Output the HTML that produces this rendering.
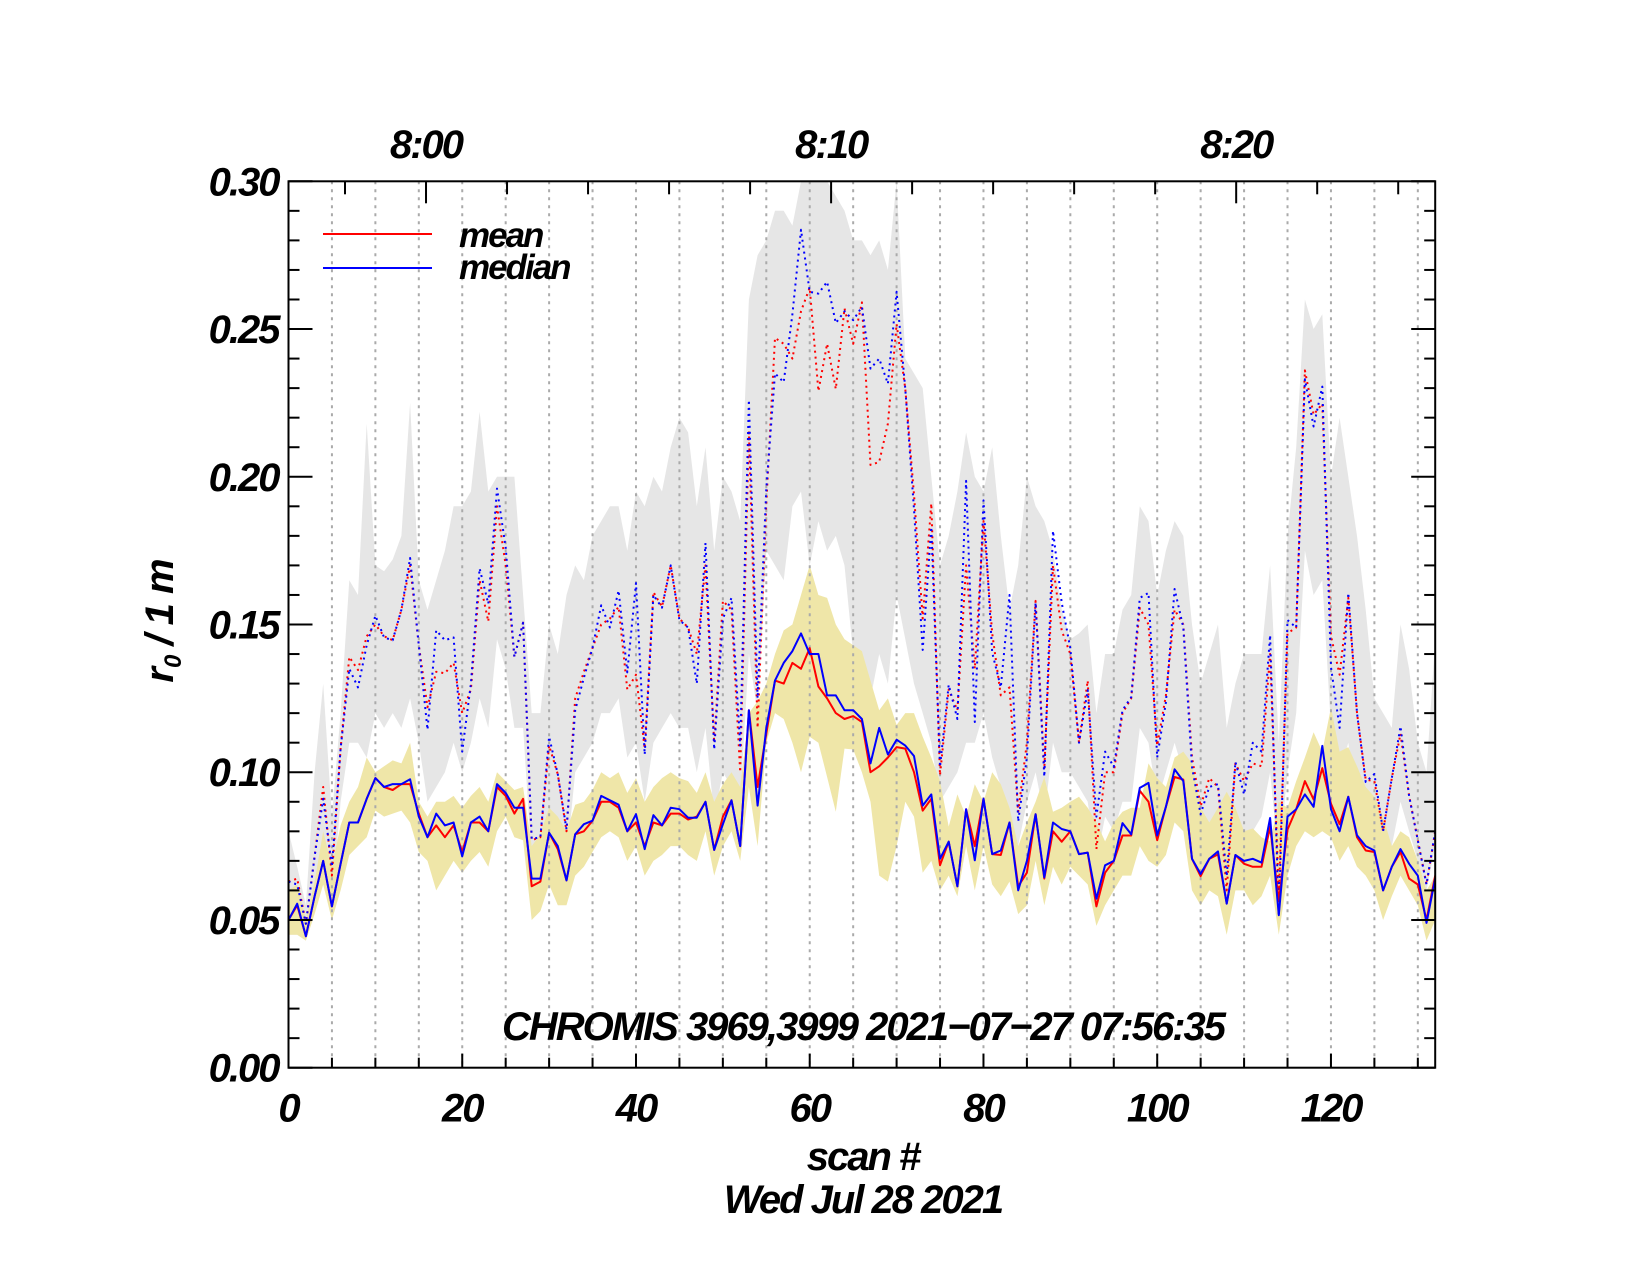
<!DOCTYPE html>
<html><head><meta charset="utf-8"><style>
html,body{margin:0;padding:0;background:#fff}
svg text{font-family:"Liberation Sans",sans-serif;font-weight:bold;font-style:italic;fill:#000}
</style></head><body>
<svg id="chart" width="1651" height="1275" viewBox="0 0 1651 1275">
<g id="bands"></g>
<g id="grid"></g>
<g id="lines"></g>
<g id="axes"></g>
</svg>
<script>
const medianSolid=[0.050,0.0555,0.0445,0.058,0.070,0.0546,0.069,0.083,0.083,0.091,0.098,0.095,0.096,0.096,0.0976,0.085,0.078,0.086,0.082,0.083,0.0715,0.083,0.085,0.080,0.096,0.093,0.088,0.088,0.064,0.064,0.0795,0.075,0.0634,0.079,0.0824,0.0836,0.092,0.0905,0.089,0.080,0.0858,0.074,0.0855,0.082,0.088,0.0875,0.0846,0.0846,0.090,0.0737,0.0824,0.0905,0.075,0.121,0.0887,0.115,0.131,0.137,0.141,0.147,0.140,0.140,0.126,0.126,0.121,0.121,0.118,0.103,0.115,0.106,0.111,0.109,0.1055,0.0887,0.0925,0.0707,0.0765,0.0614,0.0875,0.0702,0.091,0.0723,0.0735,0.083,0.060,0.070,0.0858,0.0644,0.083,0.0808,0.080,0.0723,0.0728,0.0572,0.0685,0.070,0.0828,0.079,0.0947,0.0964,0.0786,0.0883,0.101,0.097,0.0707,0.0656,0.0707,0.0732,0.0555,0.072,0.070,0.0707,0.0694,0.0845,0.0516,0.085,0.0875,0.0925,0.0883,0.1089,0.0875,0.080,0.0917,0.0787,0.075,0.0735,0.060,0.068,0.074,0.069,0.065,0.049,0.064];
const meanSolid=[0.050,0.055,0.0445,0.058,0.070,0.0546,0.069,0.083,0.083,0.091,0.098,0.095,0.094,0.096,0.096,0.086,0.078,0.082,0.078,0.082,0.073,0.083,0.083,0.080,0.095,0.092,0.086,0.091,0.0614,0.063,0.0795,0.074,0.0634,0.079,0.080,0.0836,0.090,0.090,0.088,0.080,0.083,0.075,0.083,0.082,0.086,0.086,0.084,0.085,0.090,0.0737,0.085,0.0905,0.075,0.121,0.095,0.113,0.131,0.130,0.137,0.135,0.142,0.129,0.125,0.120,0.118,0.119,0.117,0.100,0.102,0.105,0.1085,0.108,0.100,0.087,0.091,0.0685,0.0765,0.0614,0.0875,0.075,0.091,0.0723,0.072,0.083,0.0614,0.066,0.0858,0.064,0.080,0.0765,0.080,0.0723,0.0728,0.0546,0.066,0.070,0.0786,0.0786,0.0937,0.090,0.077,0.0883,0.0984,0.0975,0.0707,0.0648,0.0707,0.0722,0.0556,0.072,0.069,0.068,0.068,0.0815,0.0564,0.0806,0.0875,0.097,0.0908,0.1014,0.0893,0.0824,0.0917,0.078,0.0735,0.073,0.060,0.068,0.073,0.064,0.062,0.050,0.065];
const medianDot=[0.063,0.062,0.0487,0.0715,0.091,0.068,0.108,0.135,0.1287,0.143,0.153,0.1456,0.1447,0.155,0.1725,0.143,0.1144,0.148,0.1447,0.1456,0.107,0.130,0.169,0.157,0.196,0.176,0.139,0.1506,0.0774,0.078,0.112,0.0993,0.0807,0.121,0.132,0.142,0.1565,0.149,0.1615,0.1338,0.164,0.106,0.160,0.1557,0.170,0.1515,0.149,0.130,0.1776,0.1077,0.152,0.159,0.109,0.226,0.125,0.196,0.235,0.232,0.255,0.2836,0.2626,0.262,0.266,0.252,0.256,0.253,0.2575,0.2366,0.240,0.2315,0.2626,0.2297,0.189,0.1414,0.183,0.1018,0.1296,0.118,0.1986,0.117,0.192,0.1405,0.1287,0.160,0.0833,0.105,0.1574,0.0985,0.1817,0.1574,0.142,0.110,0.1278,0.085,0.107,0.1018,0.121,0.1254,0.159,0.1607,0.105,0.1237,0.162,0.149,0.1018,0.0858,0.095,0.096,0.0648,0.1035,0.0925,0.110,0.107,0.1464,0.0513,0.1515,0.149,0.233,0.217,0.2305,0.1355,0.115,0.1607,0.120,0.0967,0.0994,0.080,0.098,0.1155,0.092,0.077,0.062,0.080];
const meanDot=[0.063,0.064,0.0487,0.0715,0.095,0.065,0.108,0.139,0.1346,0.146,0.150,0.146,0.1447,0.155,0.170,0.143,0.122,0.134,0.1335,0.137,0.120,0.128,0.165,0.151,0.190,0.170,0.139,0.1506,0.077,0.078,0.109,0.0993,0.080,0.125,0.134,0.142,0.150,0.152,0.156,0.128,0.133,0.108,0.161,0.156,0.170,0.152,0.149,0.140,0.170,0.110,0.158,0.155,0.100,0.215,0.115,0.191,0.247,0.245,0.240,0.256,0.264,0.229,0.245,0.2297,0.257,0.245,0.259,0.204,0.205,0.218,0.2517,0.2297,0.194,0.152,0.191,0.099,0.128,0.121,0.170,0.135,0.185,0.147,0.126,0.1287,0.0866,0.110,0.158,0.101,0.170,0.148,0.140,0.110,0.131,0.074,0.100,0.100,0.120,0.125,0.1556,0.150,0.109,0.126,0.155,0.150,0.105,0.0885,0.098,0.095,0.060,0.103,0.097,0.103,0.102,0.140,0.058,0.147,0.149,0.236,0.221,0.2247,0.146,0.133,0.159,0.120,0.0975,0.097,0.080,0.098,0.113,0.092,0.077,0.062,0.080];
const yellowHigh=[0.060,0.062,0.050,0.063,0.080,0.068,0.082,0.090,0.095,0.105,0.100,0.102,0.104,0.103,0.110,0.090,0.085,0.090,0.090,0.092,0.088,0.092,0.095,0.090,0.100,0.097,0.094,0.095,0.075,0.079,0.088,0.085,0.080,0.089,0.090,0.094,0.100,0.098,0.100,0.093,0.098,0.090,0.095,0.098,0.100,0.098,0.097,0.093,0.100,0.090,0.096,0.100,0.095,0.120,0.124,0.130,0.140,0.148,0.150,0.160,0.170,0.160,0.159,0.150,0.145,0.143,0.141,0.131,0.121,0.125,0.116,0.120,0.120,0.112,0.105,0.097,0.0816,0.0925,0.085,0.0959,0.090,0.100,0.0959,0.088,0.075,0.083,0.090,0.0984,0.0866,0.088,0.090,0.0917,0.088,0.083,0.0766,0.083,0.0866,0.088,0.088,0.103,0.098,0.095,0.105,0.107,0.103,0.088,0.083,0.088,0.0934,0.088,0.080,0.081,0.078,0.0766,0.090,0.088,0.097,0.105,0.1135,0.107,0.122,0.107,0.1085,0.102,0.095,0.0917,0.085,0.075,0.080,0.078,0.070,0.060,0.065];
const yellowLow=[0.045,0.045,0.043,0.052,0.062,0.050,0.060,0.072,0.075,0.078,0.087,0.085,0.086,0.087,0.083,0.073,0.070,0.060,0.065,0.070,0.066,0.070,0.073,0.068,0.080,0.085,0.078,0.077,0.050,0.053,0.062,0.055,0.055,0.065,0.068,0.073,0.078,0.080,0.078,0.070,0.075,0.065,0.070,0.072,0.075,0.075,0.072,0.070,0.080,0.065,0.075,0.080,0.070,0.095,0.075,0.110,0.120,0.118,0.110,0.100,0.112,0.110,0.0984,0.0866,0.108,0.1077,0.100,0.090,0.065,0.063,0.075,0.090,0.085,0.066,0.070,0.060,0.065,0.058,0.075,0.060,0.075,0.062,0.058,0.063,0.052,0.055,0.070,0.055,0.068,0.062,0.068,0.065,0.062,0.048,0.055,0.060,0.065,0.065,0.075,0.070,0.068,0.072,0.083,0.080,0.060,0.055,0.060,0.058,0.045,0.060,0.060,0.055,0.058,0.065,0.045,0.065,0.075,0.080,0.078,0.080,0.078,0.070,0.075,0.068,0.065,0.060,0.050,0.058,0.065,0.060,0.055,0.043,0.050];
const grayHigh=[0.080,0.068,0.055,0.100,0.130,0.085,0.120,0.165,0.160,0.218,0.170,0.168,0.172,0.180,0.225,0.165,0.155,0.165,0.175,0.190,0.190,0.195,0.222,0.195,0.200,0.200,0.200,0.160,0.120,0.120,0.150,0.140,0.160,0.170,0.165,0.180,0.185,0.190,0.190,0.175,0.195,0.190,0.200,0.195,0.210,0.220,0.215,0.190,0.210,0.175,0.200,0.195,0.185,0.260,0.275,0.280,0.290,0.290,0.285,0.300,0.300,0.300,0.300,0.295,0.290,0.280,0.280,0.275,0.280,0.270,0.300,0.240,0.235,0.230,0.200,0.170,0.180,0.195,0.215,0.200,0.195,0.210,0.180,0.155,0.170,0.200,0.190,0.185,0.175,0.155,0.145,0.147,0.150,0.120,0.140,0.140,0.155,0.160,0.190,0.185,0.160,0.175,0.185,0.180,0.150,0.130,0.140,0.150,0.115,0.130,0.140,0.140,0.140,0.170,0.110,0.180,0.210,0.260,0.250,0.255,0.200,0.220,0.200,0.180,0.155,0.125,0.120,0.115,0.150,0.135,0.110,0.100,0.145];
const grayLow=[0.045,0.045,0.043,0.060,0.075,0.055,0.090,0.110,0.110,0.105,0.120,0.115,0.120,0.115,0.125,0.110,0.090,0.095,0.100,0.110,0.100,0.110,0.125,0.115,0.145,0.135,0.115,0.115,0.070,0.070,0.085,0.075,0.070,0.100,0.105,0.110,0.120,0.120,0.125,0.105,0.110,0.090,0.110,0.115,0.120,0.115,0.115,0.100,0.115,0.085,0.100,0.095,0.090,0.140,0.120,0.175,0.170,0.165,0.190,0.195,0.170,0.185,0.175,0.180,0.170,0.140,0.130,0.125,0.140,0.130,0.160,0.145,0.130,0.120,0.110,0.090,0.095,0.100,0.110,0.110,0.120,0.105,0.095,0.085,0.075,0.090,0.100,0.085,0.110,0.100,0.100,0.095,0.090,0.070,0.085,0.080,0.090,0.090,0.115,0.110,0.090,0.100,0.110,0.100,0.085,0.075,0.080,0.085,0.065,0.080,0.080,0.080,0.085,0.100,0.070,0.100,0.120,0.175,0.160,0.165,0.115,0.100,0.110,0.090,0.085,0.075,0.070,0.075,0.090,0.080,0.070,0.060,0.075];
const yTicks=[0,0.05,0.10,0.15,0.20,0.25,0.30];
const yTickLabels=["0.00","0.05","0.10","0.15","0.20","0.25","0.30"];
const xTicks=[0,20,40,60,80,100,120];
const xTickLabels=["0","20","40","60","80","100","120"];
const timeLabels=["8:00","8:10","8:20"];
const timeLabelScans=[15.83,62.47,109.1];

const L=288.5,R=1435.2,T=181.3,B=1067.7,XMAX=132,YMAX=0.30;
const NS="http://www.w3.org/2000/svg";
function xs(i){return L+(R-L)*i/XMAX;}
function ys(v){return B-(B-T)*Math.min(v,YMAX)/YMAX;}
function mk(tag,attrs,parent){const e=document.createElementNS(NS,tag);for(const k in attrs)e.setAttribute(k,attrs[k]);parent.appendChild(e);return e;}
const bands=document.getElementById('bands'),grid=document.getElementById('grid'),lines=document.getElementById('lines'),axes=document.getElementById('axes');

function bandPath(hi,lo){let d='';hi.forEach((v,i)=>{d+=(i?'L':'M')+xs(i).toFixed(1)+','+ys(v).toFixed(1);});for(let i=lo.length-1;i>=0;i--)d+='L'+xs(i).toFixed(1)+','+ys(lo[i]).toFixed(1);return d+'Z';}
const clip=mk('clipPath',{id:'pc'},document.getElementById('chart'));
mk('rect',{x:L,y:T,width:R-L,height:B-T},clip);
bands.setAttribute('clip-path','url(#pc)');
const g1=mk('path',{d:bandPath(grayHigh,grayLow),fill:'#e6e6e6'},bands);


const g2=mk('path',{d:bandPath(yellowHigh,yellowLow),fill:'#efe6a8'},bands);



for(let s=5;s<XMAX;s+=5){
 const gl=mk('line',{x1:xs(s),x2:xs(s),y1:T,y2:B,stroke:'#aaa','stroke-width':2,'stroke-dasharray':'3,5'},grid);
 
 
}

function linePath(a){return a.map((v,i)=>(i?'L':'M')+xs(i).toFixed(1)+','+ys(v).toFixed(1)).join('');}
lines.setAttribute('clip-path','url(#pc)');
const specs=[[meanDot,'red','2,4','mean-dotted'],[medianDot,'blue','2,4','median-dotted'],[meanSolid,'red','','mean-line'],[medianSolid,'blue','','median-line']];
specs.forEach(s=>{const p=mk('path',{d:linePath(s[0]),fill:'none',stroke:s[1],'stroke-width':2,'stroke-dasharray':s[2]||'none','stroke-linejoin':'round'},lines);
 
 });

const fr=mk('rect',{x:L,y:T,width:R-L,height:B-T,fill:'none',stroke:'#000','stroke-width':2},axes);


for(let k=0;k<=30;k++){const v=k/100,y=ys(v),len=(k%5===0)?24:11;
 mk('line',{x1:L,x2:L+len,y1:y,y2:y,stroke:'#000','stroke-width':2},axes);
 mk('line',{x1:R,x2:R-len,y1:y,y2:y,stroke:'#000','stroke-width':2},axes);}
yTicks.forEach((v,i)=>{const t=mk('text',{x:L-10,y:ys(v)+14,'text-anchor':'end','font-size':40,'letter-spacing':-2},axes);t.textContent=yTickLabels[i];
 
 });
for(let s=0;s<=XMAX;s+=5){const len=s%20===0?14:10;
 mk('line',{x1:xs(s),x2:xs(s),y1:B,y2:B-len,stroke:'#000','stroke-width':2},axes);}
xTicks.forEach((s,i)=>{const t=mk('text',{x:xs(s),y:B+54,'text-anchor':'middle','font-size':40,'letter-spacing':-2},axes);t.textContent=xTickLabels[i];
 
 });
const minScan=4.663;
for(let m=-6;m<=24;m+=2){const s=timeLabelScans[0]+m*minScan;if(s<0||s>XMAX)continue;const len=m%10===0?22:13;
 mk('line',{x1:xs(s),x2:xs(s),y1:T,y2:T+len,stroke:'#000','stroke-width':2},axes);}
timeLabels.forEach((lab,i)=>{const t=mk('text',{x:xs(timeLabelScans[i]),y:158,'text-anchor':'middle','font-size':40,'letter-spacing':-2},axes);t.textContent=lab;
 
 });
</script>
<svg style="position:absolute;left:0;top:0" width="1651" height="1275">
<g>
<line x1="323" x2="432" y1="234" y2="234" stroke="red" stroke-width="2"/>
<line x1="323" x2="432" y1="268" y2="268" stroke="blue" stroke-width="2"/>
<text x="459" y="247" font-size="35" letter-spacing="-2">mean</text>
<text x="459" y="279" font-size="35" letter-spacing="-2">median</text>
</g>
<text x="863" y="1040" text-anchor="middle" font-size="40" letter-spacing="-2">CHROMIS 3969,3999 2021−07−27 07:56:35</text>
<text x="863" y="1170" text-anchor="middle" font-size="40" letter-spacing="-2">scan #</text>
<text x="863" y="1213" text-anchor="middle" font-size="40" letter-spacing="-2">Wed Jul 28 2021</text>
<text transform="translate(173,621) rotate(-90)" text-anchor="middle" font-size="40" letter-spacing="-1">r<tspan font-size="24" dy="8">0</tspan><tspan dy="-8"> / 1 m</tspan></text>
</svg>
</body></html>
